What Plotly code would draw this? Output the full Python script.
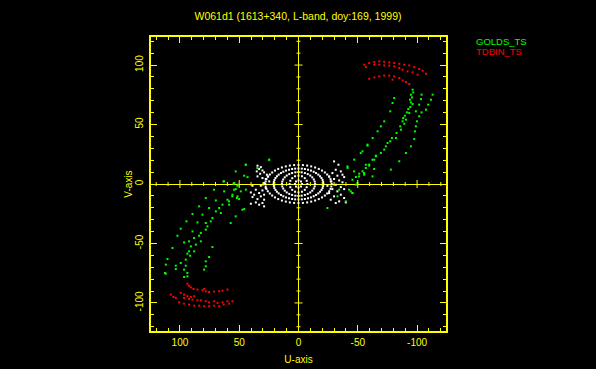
import plotly.graph_objects as go

TITLE = "W061d1 (1613+340, L-band, doy:169, 1999)"
SERIES_NAMES = ["GOLDS_TS", "TDBIN_TS"]
X_TICKS = [100, 50, 0, -50, -100]
Y_TICKS = [-100, -50, 0, 50, 100]

# ---- GOLDS_TS (green) ----
green_u = [
    63.3, 54.8, 50.9, 54.3, 62.7, 55.7, 71.2, 52.0, 59.9, 69.7, 58.5, 64.1, 78.2, 83.8,
    66.9, 75.4, 69.7, 65.5, 81.0, 89.4, 72.6, 74.0, 94.5, 85.2, 78.2, 76.8, 89.4, 99.3,
    78.2, 82.4, 83.8, 88.0, 102.1, 92.3, 96.5, 82.4, 86.6, 106.3, 90.8, 92.3, 88.0, 93.7,
    72.6, 75.4, 91.4, 95.1, 110.5, 78.2, 99.3, 95.1, 111.9, 103.5, 78.2, 79.6, 96.5, 103.5,
    93.7, 111.9, 96.5, 93.7, 112.6,
    24.8, 34.7, 44.5, 53.0, 62.8, 54.3, 51.5, 48.7, 55.8, 58.6, 47.3, 53.0, 57.2,
    44.4, 45.8, 43.0, 54.3, 52.9, 44.4, 51.5, 50.1, 45.8, 24.7,
    -96.2, -96.8, -94.8, -95.7, -94.0, -94.8, -96.2, -94.3, -92.6, -91.4, -93.4, -89.7,
    -88.3, -90.6, -87.8, -89.2, -85.8, -86.4, -82.7, -82.2, -78.8, -77.4, -75.1, -73.7,
    -72.3, -69.5, -65.3, -63.9, -59.6, -56.8, -54.0, -51.2, -48.4,
    -113.1, -111.7, -109.4, -107.5, -103.8, -101.8, -99.9, -99.0, -98.2, -97.6, -94.8,
    -90.6, -85.0, -77.9,
    -103.8, -103.3, -101.8, -99.0,
    -80.7, -79.3, -77.4, -72.3, -69.5, -66.7, -62.5, -58.2, -54.0, -47.0, -41.4,
    -58.2, -65.2, -62.4, -59.6, -63.8, -55.4, -62.4, -45.5, -48.3, -42.7, -45.5, -32.9, -24.4,
    -41.3, -46.9, -51.1, -56.8, -49.7, -44.1, -45.5, -39.9, -52.5, -55.3, -34.3,
]
green_v = [
    2.2, 0.2, -0.6, -4.8, -6.2, -9.0, -4.8, -11.8, -13.2, -13.8, -17.4, -17.4, -11.8, -18.8,
    -20.2, -20.2, -23.0, -24.4, -25.8, -25.2, -28.6, -31.4, -31.4, -32.3, -32.8, -35.6, -39.9, -37.6,
    -38.4, -41.2, -43.5, -45.4, -43.5, -48.2, -49.1, -48.2, -51.0, -53.8, -52.4, -56.6, -56.6, -58.6,
    -53.0, -61.4, -60.3, -63.6, -63.1, -65.0, -66.4, -68.7, -67.8, -68.7, -69.2, -72.0, -72.0, -71.5,
    -74.8, -75.4, -78.2, -77.6, -74.8,
    20.4, 13.4, 16.2, 10.6, 2.2, 0.8, -1.5, -6.2, -10.4, -14.6, -21.6, -27.2, -32.8,
    16.2, 7.0, 5.8, 0.8, -4.3, -4.8, -10.4, -12.7, -21.1, 20.4,
    79.3, 77.0, 75.1, 72.8, 70.9, 68.6, 67.2, 64.7, 63.0, 60.2, 59.7, 57.4,
    55.5, 54.1, 52.7, 50.7, 48.5, 45.7, 42.9, 38.7, 38.7, 35.9, 34.5, 31.7,
    28.9, 26.1, 23.3, 20.5, 16.3, 13.5, 10.7, 8.7, 5.9,
    75.1, 70.9, 66.7, 62.5, 60.2, 56.9, 52.7, 48.5, 44.3, 37.8, 31.7,
    26.1, 19.1, 12.1,
    75.1, 71.4, 66.7, 61.1,
    72.3, 68.1, 61.1, 52.7, 48.5, 44.3, 38.7, 33.1, 27.5, 20.5, 13.5,
    32.2, 23.8, 20.4, 15.4, 12.6, 7.8, 6.4, 3.6, -0.6, -4.8, -7.6, -10.4, -20.2,
    14.8, 10.6, 6.4, 16.2, 0.8, -6.2, -7.6, -14.6, 26.0, 9.2, -4.8,
]

# ---- TDBIN_TS (red) ----
red_u = [
    -55.4, -56.8, -59.6, -63.9, -63.9, -68.1, -68.1, -72.3, -72.3, -76.5, -76.5, -80.7,
    -80.7, -85.0, -85.0, -89.2, -87.8, -93.4, -92.0, -97.6, -96.2, -101.8, -104.7, -107.5,
    -100.4,
    -59.6, -63.9, -68.1, -72.3, -76.5, -80.7, -79.3, -85.0, -87.8, -90.6, -93.4,
    93.7, 92.3, 90.8, 88.6, 85.2, 81.0, 79.6, 78.2, 75.4, 71.2, 66.9, 64.1, 59.9,
    107.7, 105.5, 103.5, 100.7, 99.3, 96.5, 96.5, 93.7, 92.3, 90.8, 88.0, 89.4, 85.2,
    82.4, 78.2, 75.4, 71.2, 68.3, 64.1, 59.9, 55.7, 96.5, 92.3, 88.0, 83.8, 79.6, 75.4,
    71.2, 66.9, 63.1, 58.5,
]
red_v = [
    100.3, 98.3, 101.7, 102.5, 100.3, 103.1, 100.3, 102.8, 99.7, 102.3, 99.5, 101.7,
    98.9, 101.1, 97.5, 100.3, 96.1, 99.7, 94.7, 98.3, 93.9, 96.7, 95.3, 92.7,
    91.9,
    88.5, 89.6, 90.5, 91.1, 91.1, 90.5, 87.7, 89.1, 87.1, 85.7, 84.0,
    -83.8, -85.5, -86.9, -88.3, -88.8, -89.4, -88.3, -90.2, -90.8, -90.5, -90.2, -89.7, -88.8,
    -93.0, -95.0, -95.8, -99.5, -91.6, -93.0, -95.8, -94.4, -96.7, -95.0, -94.4, -97.2, -97.8,
    -97.8, -98.6, -99.5, -98.6, -100.0, -99.5, -98.6, -98.6, -100.6, -101.4, -102.3, -102.3, -102.8, -102.8,
    -102.3, -102.8, -101.4, -100.6,
]

# ---- short baselines (white) ----
white_u = [
    28, 27.0, 24.2, 19.8, 14.0, 7.3, 0, -7.3, -14.0, -19.8, -24.2, -27.0,
    -28, -27.0, -24.2, -19.8, -14.0, -7.3, 0, 7.3, 14.0, 19.8, 24.2, 27.0,
    27.7, 25.9, 22.2, 17.1, 10.7, 3.7, -3.7, -10.7, -17.1, -22.2, -25.9, -27.7,
    -27.7, -25.9, -22.2, -17.1, -10.7, -3.7, 3.7, 10.7, 17.1, 22.2, 25.9, 27.7,
    21, 20.3, 18.2, 14.8, 10.5, 5.4, 0, -5.4, -10.5, -14.8, -18.2, -20.3,
    -21, -20.3, -18.2, -14.8, -10.5, -5.4, 0, 5.4, 10.5, 14.8, 18.2, 20.3,
    20.8, 19.4, 16.7, 12.8, 8.0, 2.8, -2.8, -8.0, -12.8, -16.7, -19.4, -20.8,
    -20.8, -19.4, -16.7, -12.8, -8.0, -2.8, 2.8, 8.0, 12.8, 16.7, 19.4, 20.8,
    14, 12.9, 9.9, 5.4, 0, -5.4, -9.9, -12.9, -14, -12.9, -9.9, -5.4, 0, 5.4, 9.9, 12.9,
    13.7, 11.6, 7.8, 2.7, -2.7, -7.8, -11.6, -13.7, -13.7, -11.6, -7.8, -2.7, 2.7, 7.8, 11.6, 13.7,
    7.5, 6.9, 5.3, 2.9, 0, -2.9, -5.3, -6.9, -7.5, -6.9, -5.3, -2.9, 0, 2.9, 5.3, 6.9,
    3, 2.1, 0, -2.1, -3, -2.1, 0, 2.1,
    34.6, 31.8, 33.2, 30.4, 35.2, 29.0, 32.3, 26.7, 34.6, 30.4, 27.6, 25.6, 24.7, 29.0,
    38.8, 31.8, 27.6, 36.0, 30.4, 40.2, 33.2, 37.4, 29.0, 38.8, 31.8, 34.6, 29.0, 36.0,
    30.4, 40.2, 33.2, 29.0,
    -30.0, -33.7, -31.4, -35.7, -28.6, -37.1, -32.8, -25.8, -38.5, -30.0, -34.3, -27.2,
    -37.1, -31.4, -24.4, -35.7, -28.6, -38.5, -32.8, -25.8, -35.7, -30.0, -38.5, -27.2,
    -34.3, -39.9, -31.4,
]
white_v = [
    0, 4.1, 8.0, 11.3, 13.9, 15.5, 16, 15.5, 13.9, 11.3, 8.0, 4.1,
    0, -4.1, -8.0, -11.3, -13.9, -15.5, -16, -15.5, -13.9, -11.3, -8.0, -4.1,
    2.1, 6.1, 9.7, 12.7, 14.8, 15.9, 15.9, 14.8, 12.7, 9.7, 6.1, 2.1,
    -2.1, -6.1, -9.7, -12.7, -14.8, -15.9, -15.9, -14.8, -12.7, -9.7, -6.1, -2.1,
    0, 3.4, 6.5, 9.2, 11.3, 12.6, 13, 12.6, 11.3, 9.2, 6.5, 3.4,
    0, -3.4, -6.5, -9.2, -11.3, -12.6, -13, -12.6, -11.3, -9.2, -6.5, -3.4,
    1.7, 5.0, 7.9, 10.3, 12.0, 12.9, 12.9, 12.0, 10.3, 7.9, 5.0, 1.7,
    -1.7, -5.0, -7.9, -10.3, -12.0, -12.9, -12.9, -12.0, -10.3, -7.9, -5.0, -1.7,
    0, 3.8, 7.1, 9.2, 10, 9.2, 7.1, 3.8, 0, -3.8, -7.1, -9.2, -10, -9.2, -7.1, -3.8,
    2.0, 5.6, 8.3, 9.8, 9.8, 8.3, 5.6, 2.0, -2.0, -5.6, -8.3, -9.8, -9.8, -8.3, -5.6, -2.0,
    0, 2.7, 4.9, 6.5, 7, 6.5, 4.9, 2.7, 0, -2.7, -4.9, -6.5, -7, -6.5, -4.9, -2.7,
    0, 2.1, 3, 2.1, 0, -2.1, -3, -2.1,
    15.4, 14.2, 12.6, 11.4, 10.6, 9.8, 8.6, 7.8, 6.4, 5.0, 4.2, 6.4, 2.2, 0.8,
    -1.5, -1.5, -3.4, -4.8, -5.4, -7.1, -7.6, -9.0, -9.0, -11.0, -10.4, -12.7, -13.2, -15.5,
    -16.0, -16.6, -17.4, -18.8,
    19.0, 16.2, 12.0, 10.6, 9.2, 7.8, 7.0, 6.4, 5.8, 4.2, 3.0, 2.2,
    1.4, -0.6, -1.5, -2.6, -4.3, -4.3, -6.2, -7.6, -9.0, -10.4, -11.8, -13.2,
    -14.6, -15.5, -16.0,
]

YELLOW = "#ffff00"
GREEN = "#00ff00"
RED = "#ff0000"
FONT = "Liberation Sans"
RANGE_X = [124.4, -124.4]
RANGE_Y = [-123.6, 123.6]

fig = go.Figure()
mk = dict(symbol="square", size=2, line=dict(width=0))
fig.add_trace(go.Scatter(x=white_u, y=white_v, mode="markers", name="short",
                         marker=dict(color="white", **mk), showlegend=False))
fig.add_trace(go.Scatter(x=green_u, y=green_v, mode="markers", name=SERIES_NAMES[0],
                         marker=dict(color=GREEN, **mk), showlegend=False))
fig.add_trace(go.Scatter(x=red_u, y=red_v, mode="markers", name=SERIES_NAMES[1],
                         marker=dict(color=RED, **mk), showlegend=False))

axis_common = dict(
    showgrid=False, zeroline=True, zerolinecolor=YELLOW, zerolinewidth=1,
    showline=True, linecolor=YELLOW, linewidth=1.5, mirror="ticks",
    ticks="inside", ticklen=6, tickwidth=1, tickcolor=YELLOW,
    minor=dict(ticks="inside", dtick=10, ticklen=3, tickwidth=1, tickcolor=YELLOW),
    tickfont=dict(family=FONT, size=10, color=YELLOW),
    tickmode="array", automargin=False,
)

fig.update_xaxes(range=RANGE_X, tickvals=X_TICKS, ticktext=[str(t) for t in X_TICKS],
                 title=dict(text="U-axis", font=dict(family=FONT, size=10, color=YELLOW), standoff=9),
                 ticklabelstandoff=1, **axis_common)
fig.update_yaxes(range=RANGE_Y, tickvals=Y_TICKS, ticktext=[str(t) for t in Y_TICKS],
                 tickangle=-90,
                 title=dict(text="V-axis", font=dict(family=FONT, size=10, color=YELLOW), standoff=0),
                 ticklabelstandoff=2, **axis_common)

# tick marks on the crosshair through the origin
shapes = []
for t in range(-120, 130, 10):
    if t == 0:
        continue
    half = 4 if t % 50 == 0 else 2
    shapes.append(dict(type="line", xref="x", yref="y", x0=t, x1=t,
                       ysizemode="pixel", yanchor=0, y0=-half, y1=half,
                       line=dict(color=YELLOW, width=1)))
    shapes.append(dict(type="line", xref="x", yref="y", y0=t, y1=t,
                       xsizemode="pixel", xanchor=0, x0=-half, x1=half,
                       line=dict(color=YELLOW, width=1)))

annotations = [
    dict(text=SERIES_NAMES[0], xref="paper", yref="paper", x=1.095, y=0.986,
         xanchor="left", yanchor="middle", showarrow=False,
         font=dict(family=FONT, size=9.5, color=GREEN)),
    dict(text=SERIES_NAMES[1], xref="paper", yref="paper", x=1.095, y=0.95,
         xanchor="left", yanchor="middle", showarrow=False,
         font=dict(family=FONT, size=9.5, color=RED)),
]

fig.update_layout(
    width=596, height=369,
    margin=dict(l=151, r=150, t=37, b=38),
    paper_bgcolor="black", plot_bgcolor="black",
    title=dict(text=TITLE, x=0.5, xanchor="center", y=1 - 16 / 369, yanchor="middle",
               font=dict(family=FONT, size=10.5, color=YELLOW)),
    shapes=shapes, annotations=annotations,
    showlegend=False,
)

fig.write_html(
    "out.html",
    config={"displayModeBar": False},
    post_script="document.body.style.margin='0';document.body.style.background='black';"
                "document.body.style.overflow='hidden';",
)
